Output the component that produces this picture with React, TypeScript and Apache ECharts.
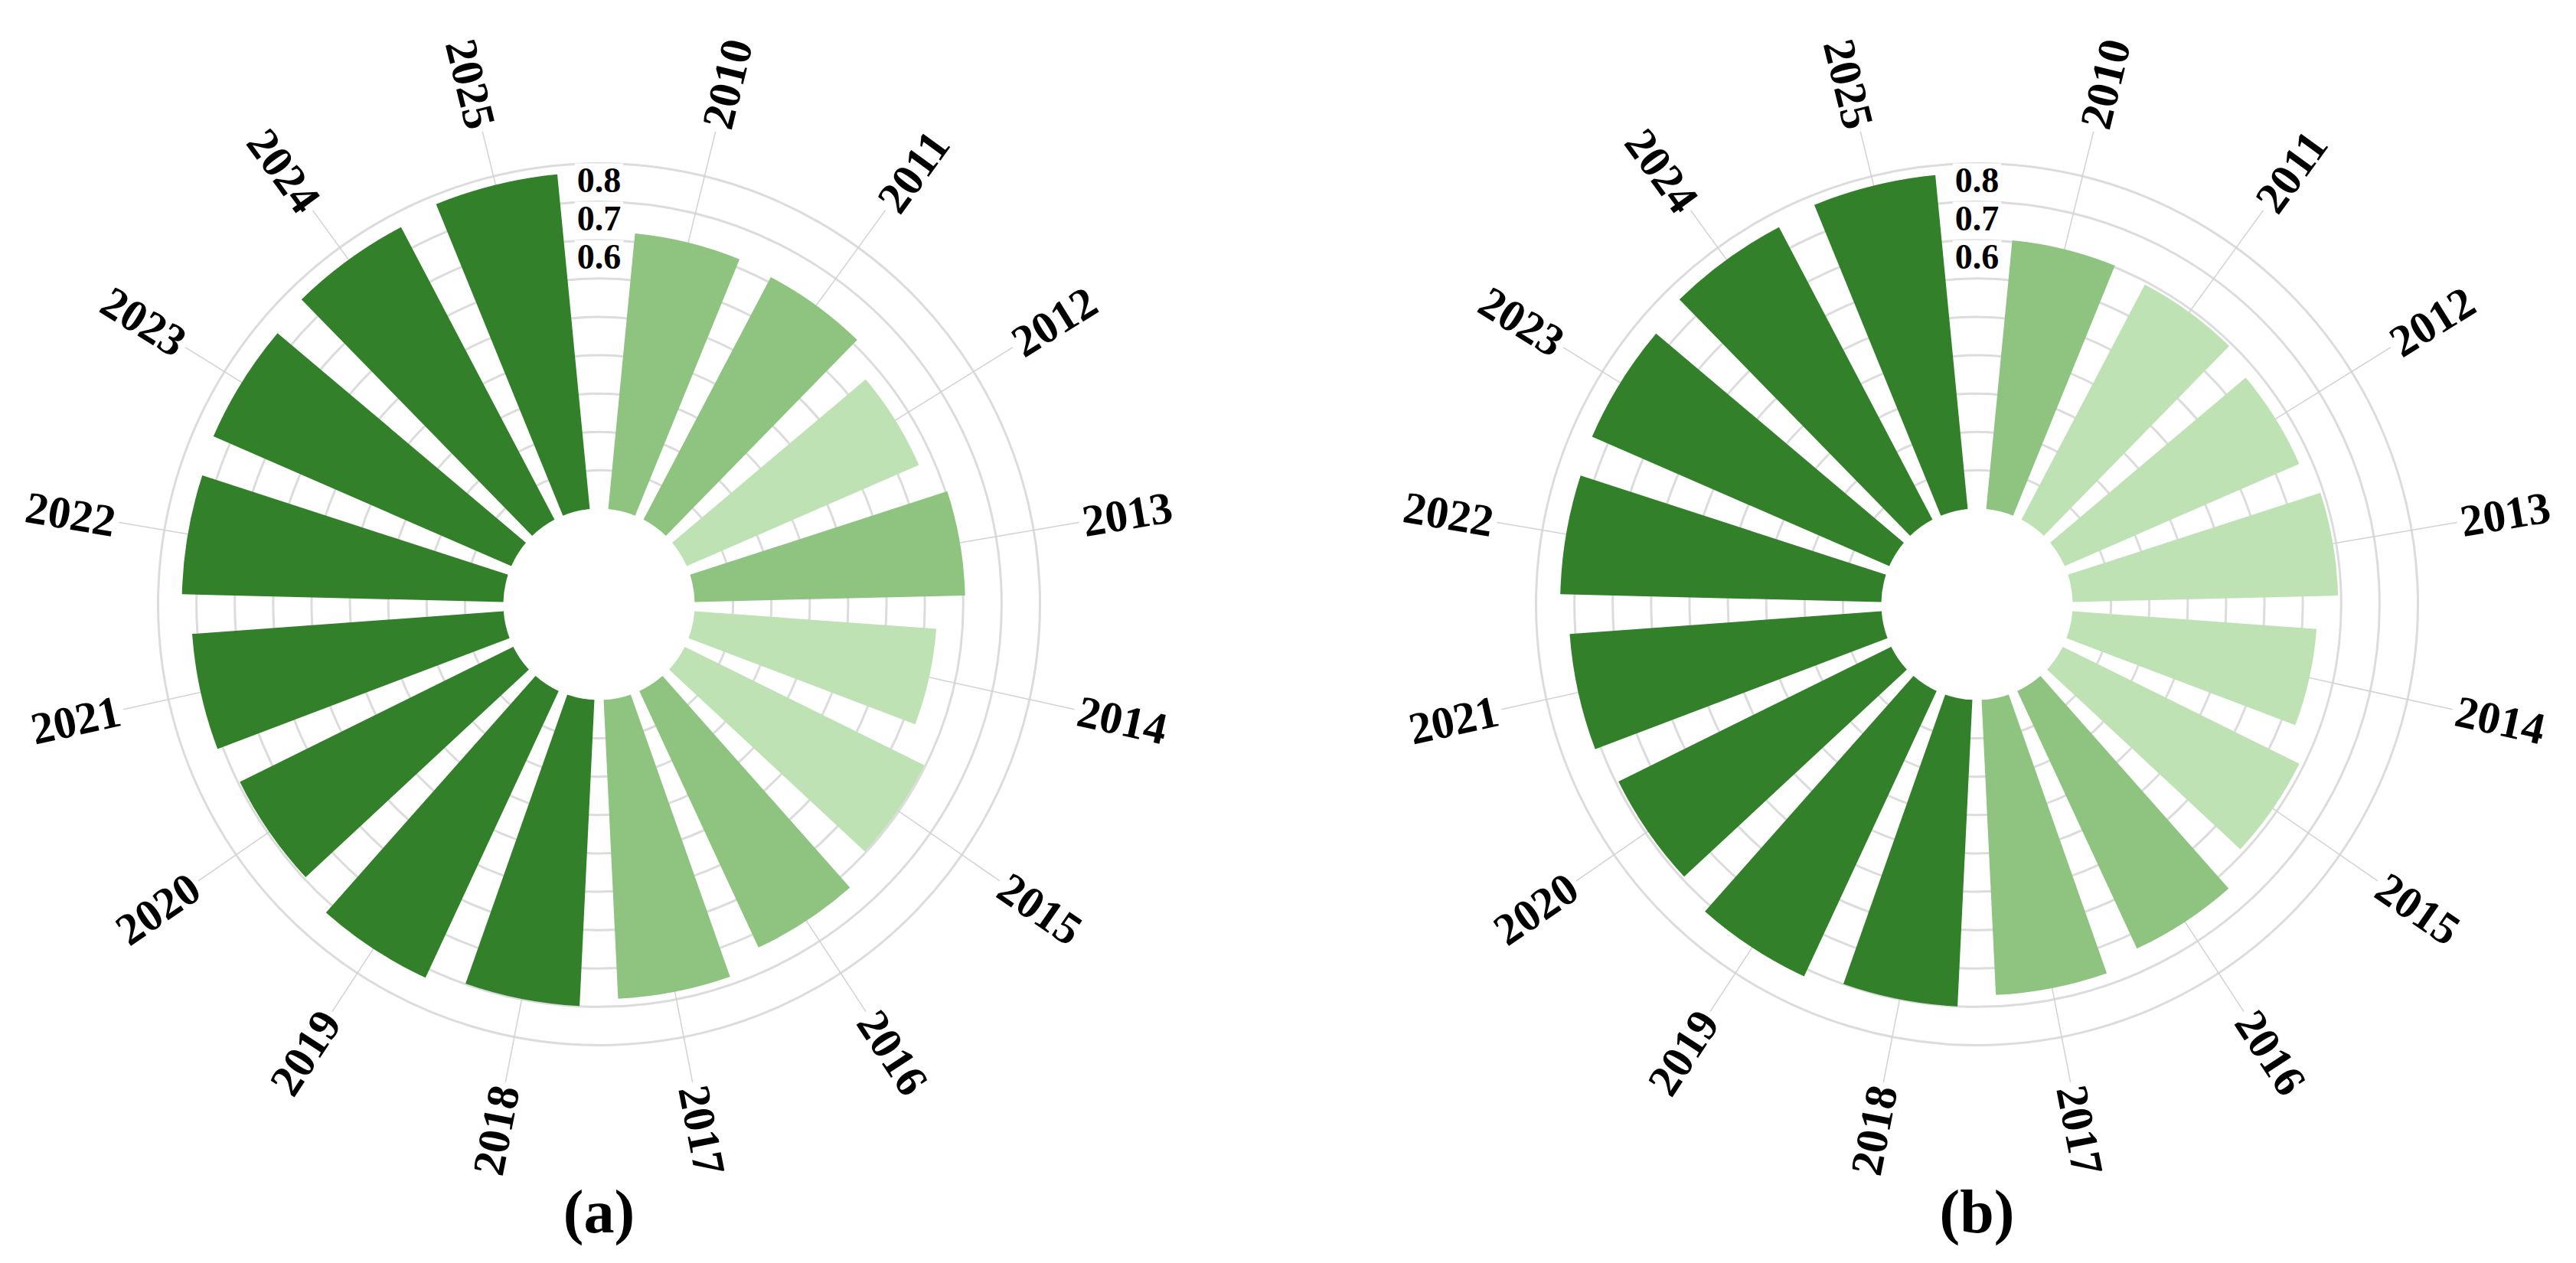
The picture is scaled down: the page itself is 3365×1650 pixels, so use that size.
import React, { useEffect, useRef } from 'react';
import * as echarts from 'echarts';

// ---------- data ----------
const years = ['2010', '2011', '2012', '2013', '2014', '2015', '2016', '2017',
  '2018', '2019', '2020', '2021', '2022', '2023', '2024', '2025'];
const valuesA = [0.622, 0.614, 0.56, 0.605, 0.532, 0.597, 0.637, 0.68,
  0.699, 0.724, 0.695, 0.714, 0.738, 0.747, 0.761, 0.777];
const valuesB = [0.604, 0.592, 0.567, 0.592, 0.538, 0.588, 0.64, 0.67,
  0.7, 0.72, 0.693, 0.715, 0.737, 0.745, 0.761, 0.775];
const panelLabels = ['(a)', '(b)'];
const labelledTicks = [0.6, 0.7, 0.8];
const classBreaks = [0.6, 0.69];
const classColors = ['#bee2b4', '#8fc380', '#33802b'];

// ---------- layout / style ----------
const W = 3365;
const H = 1650;
const CENTERS: [number, number][] = [[782.5, 789.5], [2582.5, 789.5]];
const R_INNER = 125;
const R_OUTER = 576;
const R_MIN = -0.1;
const R_MAX = 0.8;
const R_STEP = 0.1;
const ANGLE_PAD = 0.625;
const BAR_HALF = 0.375;
const LINE_END = 0.92;
const LABEL_R = 0.93;
const FONT = "'Liberation Serif', 'Times New Roman', serif";
const RING = '#dcdcdc';

const colorOf = (v: number) =>
  v < classBreaks[0] ? classColors[0] : v < classBreaks[1] ? classColors[1] : classColors[2];

const tickCount = Math.round((R_MAX - R_MIN) / R_STEP) + 1;
const ringColors = Array.from({ length: tickCount }, (_, i) => (i === 0 ? 'rgba(0,0,0,0)' : RING));

function renderLabel(params: any, api: any) {
  const cs = params.coordSys;
  const k = api.value(1);
  const p0 = api.coord([R_MIN, k]);
  const p1 = api.coord([LINE_END, k]);
  const pl = api.coord([LABEL_R, k]);
  const ang = Math.atan2(cs.cy - pl[1], pl[0] - cs.cx);
  const right = Math.cos(ang) >= 0;
  return {
    type: 'group',
    children: [
      {
        type: 'line',
        shape: { x1: p0[0], y1: p0[1], x2: p1[0], y2: p1[1] },
        style: { stroke: '#d2d2d2', lineWidth: 1.5 },
      },
      {
        type: 'text',
        x: pl[0],
        y: pl[1],
        rotation: right ? ang : ang - Math.PI,
        style: {
          text: years[k],
          fill: '#000',
          fontSize: 59,
          fontWeight: 'bold',
          fontFamily: FONT,
          align: right ? 'left' : 'right',
          verticalAlign: 'middle',
        },
      },
    ],
  };
}

function renderBar(params: any, api: any) {
  const cs = params.coordSys;
  const v = api.value(0);
  const k = api.value(1);
  const pa = api.coord([v, k - BAR_HALF]);
  const pb = api.coord([v, k + BAR_HALF]);
  const pc = api.coord([v, k]);
  const p0 = api.coord([R_MIN, k]);
  const a1 = Math.atan2(pa[1] - cs.cy, pa[0] - cs.cx);
  let a2 = Math.atan2(pb[1] - cs.cy, pb[0] - cs.cx);
  if (a2 < a1) a2 += Math.PI * 2;
  return {
    type: 'sector',
    shape: {
      cx: cs.cx,
      cy: cs.cy,
      r0: Math.hypot(p0[0] - cs.cx, p0[1] - cs.cy),
      r: Math.hypot(pc[0] - cs.cx, pc[1] - cs.cy),
      startAngle: a1,
      endAngle: a2,
      clockwise: true,
    },
    style: { fill: colorOf(v) },
  };
}

function buildOption() {
  const panels = [valuesA, valuesB];
  return {
    animation: false,
    backgroundColor: '#fff',
    polar: CENTERS.map((c) => ({ center: c, radius: [R_INNER, R_OUTER] })),
    angleAxis: CENTERS.map((_, i) => ({
      polarIndex: i,
      type: 'value',
      min: -ANGLE_PAD,
      max: years.length - 1 + ANGLE_PAD,
      startAngle: 90,
      clockwise: true,
      axisLine: { show: false },
      axisTick: { show: false },
      axisLabel: { show: false },
      splitLine: { show: false },
    })),
    radiusAxis: CENTERS.map((_, i) => ({
      polarIndex: i,
      type: 'value',
      min: R_MIN,
      max: R_MAX,
      interval: R_STEP,
      axisLine: { show: false },
      axisTick: { show: false },
      splitLine: { show: true, lineStyle: { color: ringColors, width: 3 } },
      axisLabel: {
        show: true,
        showMaxLabel: true,
        showMinLabel: true,
        hideOverlap: false,
        margin: 0,
        rotate: 0,
        align: 'center',
        verticalAlign: 'top',
        lineHeight: 44,
        fontSize: 46,
        fontWeight: 'bold',
        fontFamily: FONT,
        color: '#000',
        backgroundColor: '#fff',
        padding: [0, 3],
        formatter: (v: number) =>
          labelledTicks.some((t) => Math.abs(t - v) < 1e-6) ? v.toFixed(1) : '',
      },
    })),
    graphic: panelLabels.map((t, i) => ({
      type: 'text',
      x: CENTERS[i][0],
      y: 1583,
      style: {
        text: t,
        fill: '#000',
        fontSize: 80,
        fontWeight: 'bold',
        fontFamily: FONT,
        align: 'center',
        verticalAlign: 'middle',
      },
    })),
    series: panels.flatMap((vals, i) => [
      {
        type: 'custom',
        coordinateSystem: 'polar',
        polarIndex: i,
        z: 1,
        silent: true,
        data: years.map((_, k) => [LABEL_R, k]),
        renderItem: renderLabel,
      },
      {
        type: 'custom',
        coordinateSystem: 'polar',
        polarIndex: i,
        z: 2,
        data: vals.map((v, k) => [v, k]),
        renderItem: renderBar,
      },
    ]),
  };
}

export default function App() {
  const ref = useRef<HTMLDivElement>(null);
  useEffect(() => {
    if (!ref.current) return;
    const chart = echarts.init(ref.current, null, { renderer: 'svg' });
    chart.setOption(buildOption() as any);
    return () => chart.dispose();
  }, []);
  return (
    <div
      ref={ref}
      style={{ position: 'absolute', left: 0, top: 0, width: W, height: H, background: '#fff' }}
    />
  );
}
